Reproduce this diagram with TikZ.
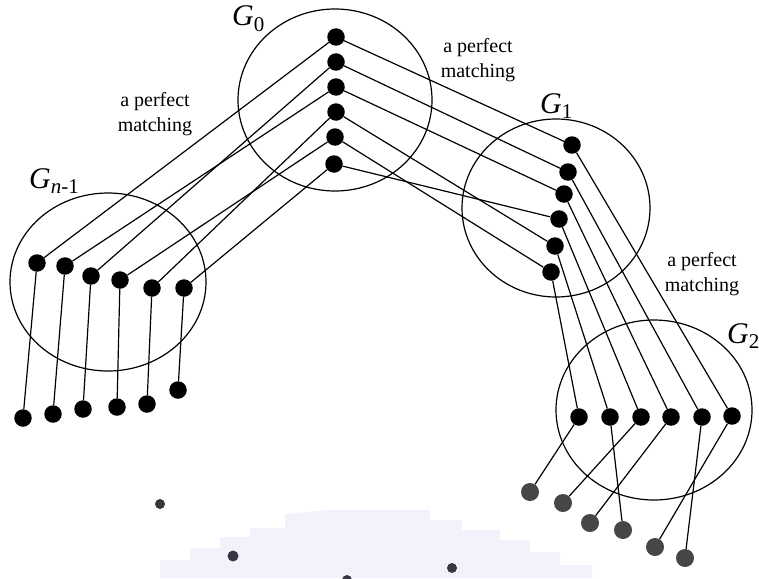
\documentclass[tikz,border=0pt]{standalone}
\usepackage{fontspec}
\setmainfont{Liberation Serif}
\definecolor{wmark}{RGB}{241,242,251}
\definecolor{greydot}{RGB}{70,70,72}
\definecolor{navydot}{RGB}{55,55,68}
\begin{document}
\begin{tikzpicture}[
                    x=1pt, y=-1pt,
                    vtx/.style={circle, fill=black, inner sep=0pt, minimum size=17.5pt},
                    gvtx/.style={circle, fill=greydot, inner sep=0pt, minimum size=18pt},
                    sdot/.style={circle, fill=navydot, inner sep=0pt, minimum size=10pt},
                    grp/.style={line width=1.2pt},
                    lbl/.style={font=\fontsize{20}{25}\selectfont, align=center, inner sep=0pt},
                    glbl/.style={font=\fontsize{30}{32}\selectfont, anchor=base west, inner sep=0pt},
                    every edge/.style={draw, line width=1.2pt}
                ]
                \useasboundingbox (0,0) rectangle (759,578);

                % faint watermark at the bottom
                \fill[wmark] (160,578) -- (160,560) -- (190,560) -- (190,548) -- (220,548)
                    -- (220,537) -- (250,537) -- (250,528) -- (285,528) -- (285,514)
                    -- (330,510) -- (430,510) -- (430,520) -- (462,520) -- (462,530)
                    -- (500,530) -- (500,540) -- (530,540) -- (530,552) -- (560,552)
                    -- (560,565) -- (592,565) -- (592,578) -- cycle;
                \node[sdot] (s1) at (160,504) {};
                \node[sdot, minimum size=11pt] (s2) at (233,556) {};
                \node[sdot] (s3) at (452,568) {};
                \node[sdot] (s4) at (347,580) {};

                % the four groups
                \draw[grp] (335,100) ellipse [x radius=97, y radius=91];
                \draw[grp] (108,282) ellipse [x radius=98, y radius=89];
                \draw[grp] (556,208) ellipse [x radius=94, y radius=89];
                \draw[grp] (654,410) ellipse [x radius=98, y radius=90];

                \node[glbl] (L0) at (232,26) {\textit{G}\textsubscript{0}};
                \node[glbl] (L1) at (540,113) {\textit{G}\textsubscript{1}};
                \node[glbl] (L2) at (727,343) {\textit{G}\textsubscript{2}};
                \node[glbl] (Ln) at (29,188) {\textit{G}\textsubscript{\textit{n}-1}};

                \node[lbl] (M1) at (155,114) {a perfect\\matching};
                \node[lbl] (M2) at (478,60) {a perfect\\matching};
                \node[lbl] (M3) at (702,274) {a perfect\\matching};

                % vertices of G_0
                \node[vtx] (a1) at (336,37) {};
                \node[vtx] (a2) at (336,62) {};
                \node[vtx] (a3) at (336,87) {};
                \node[vtx] (a4) at (336,112) {};
                \node[vtx] (a5) at (335,137) {};
                \node[vtx] (a6) at (334,164) {};

                % vertices of G_1
                \node[vtx] (b1) at (572,145) {};
                \node[vtx] (b2) at (568,172) {};
                \node[vtx] (b3) at (564,194) {};
                \node[vtx] (b4) at (559,219) {};
                \node[vtx] (b5) at (555,246) {};
                \node[vtx] (b6) at (551,272) {};

                % vertices of G_2
                \node[vtx] (c1) at (579,417) {};
                \node[vtx] (c2) at (610,417) {};
                \node[vtx] (c3) at (641,417) {};
                \node[vtx] (c4) at (671,417) {};
                \node[vtx] (c5) at (702,417) {};
                \node[vtx] (c6) at (732,416) {};

                % vertices of G_{n-1}
                \node[vtx] (d1) at (37,263) {};
                \node[vtx] (d2) at (65,266) {};
                \node[vtx] (d3) at (91,276) {};
                \node[vtx] (d4) at (120,280) {};
                \node[vtx] (d5) at (152,288) {};
                \node[vtx] (d6) at (184,288) {};

                % loose ends
                \node[vtx] (e1) at (23,418) {};
                \node[vtx] (e2) at (53,414) {};
                \node[vtx] (e3) at (83,409) {};
                \node[vtx] (e4) at (117,407) {};
                \node[vtx] (e5) at (147,404) {};
                \node[vtx] (e6) at (178,390) {};

                \node[gvtx] (f1) at (530,492) {};
                \node[gvtx] (f2) at (563,503) {};
                \node[gvtx] (f3) at (590,523) {};
                \node[gvtx] (f4) at (623,530) {};
                \node[gvtx] (f5) at (655,547) {};
                \node[gvtx] (f6) at (685,558) {};

                \path
                (d1) edge (a1)
                (d2) edge (a3)
                (d3) edge (a2)
                (d4) edge (a5)
                (d5) edge (a4)
                (d6) edge (a6)
                (a1) edge (b1)
                (a2) edge (b2)
                (a3) edge (b3)
                (a6) edge (b4)
                (a4) edge (b5)
                (a5) edge (b6)
                (b1) edge (c6)
                (b2) edge (c5)
                (b3) edge (c4)
                (b4) edge (c3)
                (b5) edge (c2)
                (b6) edge (c1)
                (d1) edge (e1)
                (d2) edge (e2)
                (d3) edge (e3)
                (d4) edge (e4)
                (d5) edge (e5)
                (d6) edge (e6)
                (c1) edge (f1)
                (c2) edge (f4)
                (c3) edge (f2)
                (c4) edge (f3)
                (c5) edge (f6)
                (c6) edge (f5)
                ;
            \end{tikzpicture}
\end{document}
